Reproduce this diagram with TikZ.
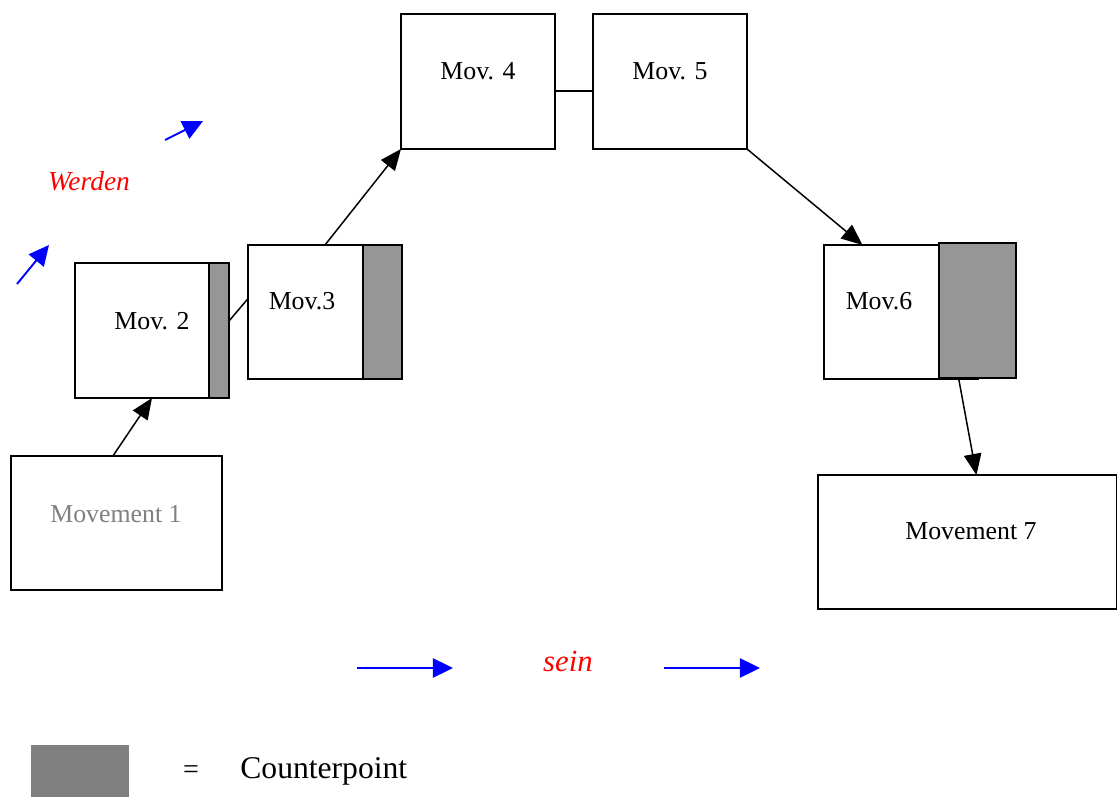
\documentclass[tikz,border=0pt]{standalone}
\usepackage{fontspec}
\setmainfont{Liberation Serif}
\usetikzlibrary{arrows.meta,calc}
\definecolor{cpgray}{RGB}{150,150,150}
\definecolor{keygray}{RGB}{128,128,128}
\definecolor{txtgray}{RGB}{128,128,128}
\tikzset{
  mov/.style={draw=black, line width=0.85pt, fill=white, inner sep=0pt, outer sep=0pt},
  cpstrip/.style={draw=black, line width=0.85pt, fill=cpgray},
  lbl/.style={anchor=base, inner sep=0pt, font=\fontsize{14.7}{17}\selectfont},
  link/.style={line width=0.85pt, -{Triangle[length=12pt,width=10pt]}},
  plain/.style={line width=0.85pt},
  flow/.style={draw=blue, line width=1.1pt, -{Triangle[length=11.5pt,width=11pt]}},
  concept/.style={anchor=base, inner sep=0pt, text=red, font=\itshape}
}
\begin{document}
\begin{tikzpicture}[x=0.02cm,y=-0.02cm]
\useasboundingbox (0,0) rectangle (1117,797);

% movement boxes
\node[mov, minimum width=4.22cm, minimum height=2.68cm] (m1) at (116.5,523) {};
\node[mov, minimum width=3.08cm, minimum height=2.7cm]  (m2) at (152,330.5) {};
\node[mov, minimum width=3.08cm, minimum height=2.68cm] (m3) at (325,312) {};
\node[mov, minimum width=3.08cm, minimum height=2.7cm]  (m4) at (478,81.5) {};
\node[mov, minimum width=3.08cm, minimum height=2.7cm]  (m5) at (670,81.5) {};
\node[mov, minimum width=3.08cm, minimum height=2.68cm] (m6) at (901,312) {};
\node[mov, minimum width=5.98cm, minimum height=2.68cm] (m7) at (967.5,542) {};

% counterpoint strips
\draw[cpstrip] (209,263) rectangle (229,398);
\draw[cpstrip] (363,245) rectangle (402,379);
\draw[cpstrip] (939,243) rectangle (1016,378);

% labels
\node[lbl, text=txtgray] (t1) at (116,522) {Movement 1};
\node[lbl] (t2) at (152,330) {Mov. 2};
\node[lbl] (t3) at (302,310) {Mov.3};
\node[lbl] (t4) at (478,80) {Mov. 4};
\node[lbl] (t5) at (670,80) {Mov. 5};
\node[lbl] (t6) at (879,310) {Mov.6};
\node[lbl] (t7) at (971,540) {Movement 7};

% connectors
\draw[link] ($(m1.north west)!0.483!(m1.north east)$) -- (m2.south);
\draw[plain] ($(m2.north east)!0.43!(m2.south east)$) -- ($(m3.north west)!0.4!(m3.south west)$);
\draw[link] (m3.north) -- (m4.south west);
\draw[plain] ($(m4.north east)!0.57!(m4.south east)$) -- ($(m5.north west)!0.57!(m5.south west)$);
\draw[link] (m5.south east) -- ($(m6.north west)!0.25!(m6.north east)$);
\draw[link] ($(m6.south west)!0.875!(m6.south east)$) -- ($(m7.north west)!0.53!(m7.north east)$);

% direction arrows
\coordinate (wa1) at (17,284);  \coordinate (wb1) at (49,245);
\coordinate (wa2) at (165,140); \coordinate (wb2) at (203,121);
\coordinate (sa1) at (357,668); \coordinate (sb1) at (453,668);
\coordinate (sa2) at (664,668); \coordinate (sb2) at (760,668);
\draw[flow] (wa1) -- (wb1);
\draw[flow] (wa2) -- (wb2);
\draw[flow] (sa1) -- (sb1);
\draw[flow] (sa2) -- (sb2);
\node[concept, font=\fontsize{15.6}{18}\selectfont\itshape] (werden) at (89,191) {Werden};
\node[concept, font=\fontsize{17.5}{20}\selectfont\itshape] (sein) at (568,671) {sein};

% legend
\node[fill=keygray, draw=none, inner sep=0pt, minimum width=1.96cm, minimum height=1.04cm] (key) at (80,771) {};
\node[anchor=base, inner sep=0pt, font=\fontsize{16}{19}\selectfont] (eq) at (191,778) {=};
\node[anchor=base west, inner sep=0pt, font=\fontsize{18}{21}\selectfont] (cp) at (240,778) {Counterpoint};
\end{tikzpicture}
\end{document}
